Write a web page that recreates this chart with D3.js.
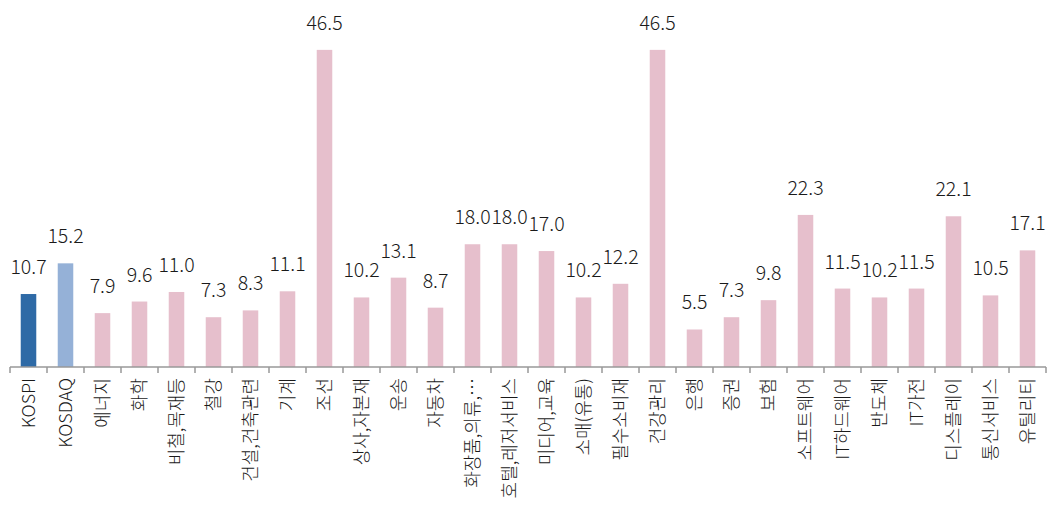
<!DOCTYPE html>
<html>
<head>
<meta charset="utf-8">
<script src="https://cdn.jsdelivr.net/npm/d3@7"></script>
<style>
  html, body { margin: 0; padding: 0; background: #fff; }
  svg { display: block; }
  .value-label { font-family: "Noto Sans CJK KR", "Noto Sans", sans-serif; font-size: 19.5px; font-weight: 300; fill: #1a1a1a; }
  .axis-x text { font-family: "Noto Sans CJK KR", "Noto Sans", sans-serif; font-size: 18px; font-weight: 300; fill: #1a1a1a; }
  .axis-x path, .axis-x line { stroke: #999; stroke-width: 1.5; }
</style>
</head>
<body>
<div id="chart"></div>
<script>
  'use strict';

  var sectors = ['KOSPI', 'KOSDAQ', '에너지', '화학', '비철,목재등', '철강', '건설,건축관련',
    '기계', '조선', '상사,자본재', '운송', '자동차', '화장품,의류,…', '호텔,레저서비스',
    '미디어,교육', '소매(유통)', '필수소비재', '건강관리', '은행', '증권', '보험',
    '소프트웨어', 'IT하드웨어', '반도체', 'IT가전', '디스플레이', '통신서비스', '유틸리티'];

  var values = [10.7, 15.2, 7.9, 9.6, 11.0, 7.3, 8.3, 11.1, 46.5, 10.2, 13.1, 8.7, 18.0, 18.0,
    17.0, 10.2, 12.2, 46.5, 5.5, 7.3, 9.8, 22.3, 11.5, 10.2, 11.5, 22.1, 10.5, 17.1];

  var width = 1055, height = 512;
  var margin = {top: 26, left: 10, right: 9, baseline: 367};

  var rows = sectors.map(function(s, i) { return {sector: s, value: values[i]}; });

  var xScale = d3.scaleBand()
      .domain(sectors)
      .range([margin.left, width - margin.right])
      .paddingInner(0.58)
      .paddingOuter(0.29);

  var yScale = d3.scaleLinear()
      .domain([0, 50])
      .range([margin.baseline, margin.top]);

  function barColor(d, i) {
    if (i === 0) return '#2e6aa6';
    if (i === 1) return '#95b1d7';
    return '#e6bfcc';
  }

  function translation(x, y) {
    return 'translate(' + x + ',' + y + ')';
  }

  var svg = d3.select('#chart').append('svg')
      .attr('width', width)
      .attr('height', height);

  // Bars
  svg.append('g').selectAll('rect')
      .data(rows)
    .enter().append('rect')
      .attr('x', function(d) { return xScale(d.sector); })
      .attr('y', function(d) { return yScale(d.value); })
      .attr('width', xScale.bandwidth())
      .attr('height', function(d) { return yScale(0) - yScale(d.value); })
      .attr('fill', barColor);

  // Value labels above each bar
  svg.append('g').selectAll('text')
      .data(rows)
    .enter().append('text')
      .attr('class', 'value-label')
      .attr('x', function(d) { return xScale(d.sector) + xScale.bandwidth() / 2; })
      .attr('y', function(d) { return yScale(d.value) - 20; })
      .attr('text-anchor', 'middle')
      .text(function(d) { return d.value.toFixed(1); });

  // x axis, labels rotated
  var xAxis = d3.axisBottom(xScale)
      .tickSize(0)
      .tickPadding(0)
      .tickSizeOuter(0);

  var axisG = svg.append('g')
      .attr('class', 'axis-x')
      .attr('transform', translation(0, margin.baseline))
      .call(xAxis);

  axisG.select('.domain')
      .attr('d', 'M' + margin.left + ',0H' + (width - margin.right));

  // separators between the categories
  var edges = d3.range(sectors.length + 1).map(function(i) {
    return margin.left + i * (width - margin.left - margin.right) / sectors.length;
  });
  axisG.selectAll('.sep')
      .data(edges)
    .enter().append('line')
      .attr('class', 'sep')
      .attr('x1', function(d) { return d; })
      .attr('x2', function(d) { return d; })
      .attr('y1', 0)
      .attr('y2', 6);

  axisG.selectAll('.tick text')
      .attr('transform', 'translate(0,11) rotate(-90)')
      .attr('dy', '0.35em')
      .attr('x', 0)
      .attr('y', 0)
      .style('text-anchor', 'end');
</script>
</body>
</html>
